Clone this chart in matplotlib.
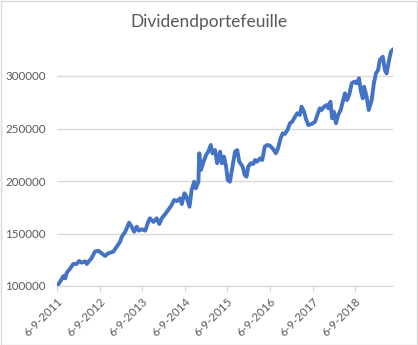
#!/usr/bin/env python3

import matplotlib
matplotlib.use("Agg")
import matplotlib.pyplot as plt
from matplotlib.patches import Rectangle
import pandas as pd

years = [2011.68, 2011.70, 2011.75, 2011.83, 2011.87, 2011.91, 2011.99, 2012.06, 2012.14,
         2012.20, 2012.26, 2012.34, 2012.38, 2012.44, 2012.49, 2012.57, 2012.65, 2012.73,
         2012.81, 2012.88, 2013.00, 2013.08, 2013.16, 2013.20, 2013.28, 2013.37, 2013.43,
         2013.49, 2013.55, 2013.60, 2013.67, 2013.75, 2013.82, 2013.86, 2013.94, 2014.02,
         2014.08, 2014.14, 2014.22, 2014.29, 2014.37, 2014.43, 2014.50, 2014.57, 2014.61,
         2014.67, 2014.72, 2014.79, 2014.84, 2014.90, 2014.94, 2015.00, 2015.02, 2015.06,
         2015.11, 2015.18, 2015.23, 2015.29, 2015.33, 2015.39, 2015.44, 2015.51, 2015.55,
         2015.60, 2015.65, 2015.69, 2015.74, 2015.80, 2015.86, 2015.91, 2015.96, 2016.04,
         2016.09, 2016.13, 2016.17, 2016.23, 2016.29, 2016.33, 2016.38, 2016.45, 2016.50,
         2016.56, 2016.62, 2016.68, 2016.76, 2016.82, 2016.87, 2016.93, 2016.98, 2017.03,
         2017.09, 2017.15, 2017.20, 2017.27, 2017.32, 2017.38, 2017.42, 2017.48, 2017.52,
         2017.58, 2017.66, 2017.74, 2017.79, 2017.85, 2017.89, 2017.95, 2018.01, 2018.05,
         2018.10, 2018.14, 2018.18, 2018.23, 2018.28, 2018.34, 2018.40, 2018.44, 2018.49,
         2018.54, 2018.60, 2018.66, 2018.71, 2018.77, 2018.81, 2018.86, 2018.89, 2018.95,
         2019.00, 2019.07, 2019.12, 2019.17, 2019.22, 2019.26, 2019.33, 2019.38, 2019.42,
         2019.47, 2019.52, 2019.56]
values = [100000, 101000, 104000, 109500, 107300, 112700, 116800, 121000, 121000,
          123800, 122200, 123500, 121000, 124100, 126400, 132700, 133600, 131100,
          128600, 131100, 132700, 137400, 142200, 146900, 151700, 160300, 156500,
          151700, 156500, 152700, 154000, 152700, 161200, 164500, 161000, 164500,
          159000, 164500, 168600, 172400, 177100, 181900, 180900, 183500, 178100,
          188300, 185000, 175500, 191400, 199300, 193000, 199300, 226400, 210500,
          216900, 224800, 227900, 234300, 226400, 229500, 216900, 227900, 216900,
          223200, 213600, 201000, 199300, 213600, 227900, 229500, 218400, 213600,
          205700, 204100, 213600, 216900, 216200, 220000, 218400, 221600, 220000,
          232700, 234300, 233600, 230200, 226400, 231100, 240600, 245400, 244800,
          248600, 255000, 256500, 261300, 264500, 262900, 270800, 266000, 259700,
          253300, 254300, 256500, 262900, 269200, 267600, 270800, 272400, 269200,
          275500, 259700, 266000, 255000, 262900, 267600, 277100, 283500, 277100,
          281900, 293000, 294600, 293000, 297800, 286700, 278700, 289800, 280300,
          267600, 277100, 293000, 302500, 305700, 315200, 318400, 305700, 302500,
          313600, 323100, 324800]

tick_years = [2011, 2012, 2013, 2014, 2015, 2016, 2017, 2018]
y_ticks = [100000, 150000, 200000, 250000, 300000]


def to_date(y):
    start = pd.Timestamp(int(y), 1, 1)
    return start + pd.Timedelta(days=(y - int(y)) * 365.25)


dates = [to_date(y) for y in years]
tick_dates = [pd.Timestamp(y, 9, 6) for y in tick_years]
tick_labels = ["6-9-%d" % y for y in tick_years]

plt.rcParams['font.family'] = ['Lato', 'DejaVu Sans']

grey = "#595959"
grid = "#d9d9d9"

fig = plt.figure(figsize=(4.18, 3.45), dpi=100)
ax = fig.add_axes([57 / 418, 59 / 345, 336 / 418, 241.5 / 345])

ax.plot(dates, values, color="#4472c4", linewidth=2.8, solid_joinstyle="round")

ax.set_ylim(100000, 330000)
ax.set_xlim(tick_dates[0], to_date(2019.57))
ax.set_yticks(y_ticks)
ax.set_yticklabels([str(v) for v in y_ticks])
ax.set_xticks(tick_dates)
ax.set_xticklabels(tick_labels, rotation=45, ha="right", rotation_mode="anchor")

ax.grid(axis="y", color=grid, linewidth=1)
ax.set_axisbelow(True)
for s in ["top", "right", "left"]:
    ax.spines[s].set_visible(False)
ax.spines["bottom"].set_color(grid)
ax.tick_params(axis="y", length=0, pad=8, labelsize=8.4, labelcolor=grey)
ax.tick_params(axis="x", length=4, color=grid, pad=3, labelsize=8.4, labelcolor=grey)

fig.text(0.5, 0.935, "Dividendportefeuille", ha="center", va="center",
         fontsize=12.5, color=grey)

fig.patches.append(Rectangle((0.5 / 418, 0.5 / 345), 416.5 / 418, 343.5 / 345,
                             transform=fig.transFigure, fill=False,
                             edgecolor=grid, linewidth=1))

fig.savefig("out.png", dpi=100)
